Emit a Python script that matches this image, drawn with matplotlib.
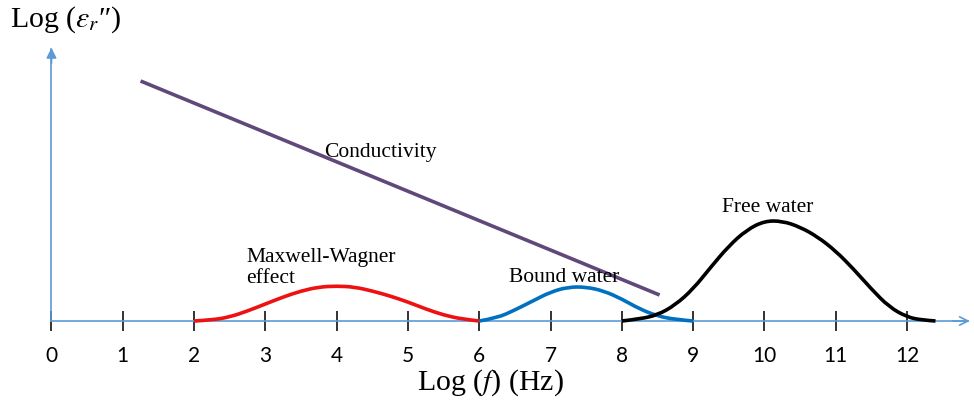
import numpy as np
import matplotlib.pyplot as plt
from matplotlib.path import Path
from matplotlib.patches import PathPatch

plt.rcParams['mathtext.fontset'] = 'stix'

# curves (x = log f, y = arbitrary height)
mw_x = [2.0, 2.25, 2.5, 2.75, 3.0, 3.25, 3.5, 3.75, 4.0, 4.25, 4.5, 4.75, 5.0, 5.25, 5.5, 5.75, 6.0]
mw_y = [0, 1, 4, 10, 17, 24, 30, 34, 35, 34, 30, 25, 19, 12, 6, 2, 0]

bound_x = [6.0, 6.25, 6.5, 6.75, 7.0, 7.25, 7.5, 7.75, 8.0, 8.25, 8.5, 8.75, 9.0]
bound_y = [0, 3, 11, 20, 29, 34, 34, 30, 22, 12, 5, 1.5, 0]

free_x = [8.0, 8.25, 8.5, 8.75, 9.0, 9.25, 9.5, 9.75, 10.0, 10.25, 10.5, 10.75, 11.0, 11.25, 11.5, 11.75, 12.0, 12.2, 12.4]
free_y = [0, 2, 6, 16, 32, 54, 75, 91, 100, 100, 94, 84, 70, 52, 32, 14, 4, 1, 0]

cond_x = [1.25, 8.53]
cond_y = [240, 26]

ticks = list(range(0, 13))

axis_col = '#5B9BD5'
serif = ['Liberation Serif', 'DejaVu Serif']


def smooth_curve(ax, xs, ys, color):
    # quadratic bezier through midpoints, the read points act as control points
    pts = list(zip(xs, ys))
    verts = [pts[0]]
    codes = [Path.MOVETO]
    for i in range(1, len(pts) - 1):
        mid = ((pts[i][0] + pts[i + 1][0]) / 2, (pts[i][1] + pts[i + 1][1]) / 2)
        if i == len(pts) - 2:
            mid = pts[-1]
        verts += [pts[i], mid]
        codes += [Path.CURVE3, Path.CURVE3]
    patch = PathPatch(Path(verts, codes), facecolor='none', edgecolor=color,
                      lw=2.6, capstyle='butt', zorder=3)
    ax.add_patch(patch)


fig = plt.figure(figsize=(9.74, 4.14), dpi=100)
ax = fig.add_axes([0, 0, 1, 1])
ax.set_xlim(-0.722, 12.94)
ax.set_ylim(-92, 322)

for s in ['top', 'right']:
    ax.spines[s].set_visible(False)
ax.spines['left'].set_position(('data', 0))
ax.spines['bottom'].set_position(('data', 0))
ax.spines['left'].set_bounds(0, 272)
ax.spines['bottom'].set_bounds(0, 12.85)
ax.spines['left'].set_color(axis_col)
ax.spines['bottom'].set_color(axis_col)
ax.spines['left'].set_linewidth(1.2)
ax.spines['bottom'].set_linewidth(1.2)

# arrow heads
ax.annotate('', xy=(12.92, 0), xytext=(12.6, 0),
            arrowprops=dict(arrowstyle='->', color=axis_col, lw=1.2, mutation_scale=15))
ax.annotate('', xy=(0, 276), xytext=(0, 255),
            arrowprops=dict(arrowstyle='-|>', color=axis_col, lw=1.2, mutation_scale=15))

ax.set_xticks(ticks)
ax.set_xticklabels([str(t) for t in ticks], fontfamily='Lato', fontsize=15)
ax.tick_params(axis='x', direction='inout', length=15, width=1.3, color='#222222', pad=10)
ax.set_yticks([])

ax.plot(cond_x, cond_y, color='#60497A', lw=2.6, solid_capstyle='butt')
smooth_curve(ax, mw_x, mw_y, '#EE1111')
smooth_curve(ax, bound_x, bound_y, '#0070C0')
smooth_curve(ax, free_x, free_y, 'black')

ax.text(4.62, 170, 'Conductivity', family=serif, fontsize=15.5, ha='center', va='center')
ax.text(2.73, 54, 'Maxwell-Wagner\neffect', family=serif, fontsize=15.5, ha='left', va='center',
        linespacing=1.15)
ax.text(6.42, 45, 'Bound water', family=serif, fontsize=15.5, ha='left', va='center')
ax.text(9.4, 115, 'Free water', family=serif, fontsize=15.5, ha='left', va='center')

ax.text(-0.58, 302, 'Log ($\\varepsilon_r$\u2033)', family=serif, fontsize=21.5, ha='left', va='center')
ax.text(6.15, -61, 'Log ($f$) (Hz)', family=serif, fontsize=21.5, ha='center', va='center')

fig.savefig('out.png', dpi=100)
